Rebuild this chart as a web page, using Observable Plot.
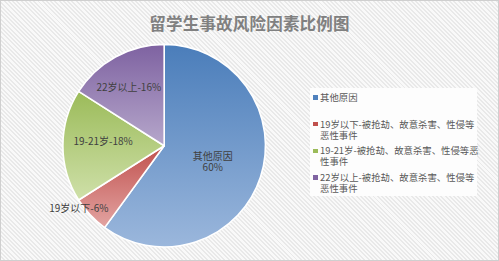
<!DOCTYPE html>
<html>
<head>
<meta charset="utf-8">
<script src="https://cdn.jsdelivr.net/npm/d3@7"></script>
<script src="https://cdn.jsdelivr.net/npm/@observablehq/plot@0.6"></script>
<style>
  html, body { margin: 0; padding: 0; background: #fff; }
  #chart {
    position: relative; width: 499px; height: 261px; box-sizing: border-box;
    border: 1px solid #cfcfcf;
    background: repeating-linear-gradient(45deg, #f9f9f9 0px, #f9f9f9 1.6px, #e9e9e9 1.6px, #e9e9e9 3px);
    font-family: "Noto Sans CJK SC", sans-serif; overflow: hidden;
  }
  #title {
    position: absolute; left: 0; top: 10px; width: 497px; text-align: center;
    font-size: 16.5px; font-weight: bold; color: #808080; letter-spacing: 0.2px;
  }
  #plot { position: absolute; left: -1px; top: -1px; }
  #legend {
    position: absolute; left: 309px; top: 87px; width: 167px; height: 108px;
    background: #fdfdfd; box-sizing: border-box; padding: 4px 0 0 3px;
    font-size: 9.4px; color: #595959; line-height: 11px;
  }
  .item { position: relative; padding-left: 7px; width: 160px; margin-bottom: 4.7px; }
  .item .sw { position: absolute; left: 0; top: 3.3px; width: 4.5px; height: 4.5px; }
</style>
</head>
<body>
<div id="chart">
  <div id="title">留学生事故风险因素比例图</div>
  <div id="plot"></div>
  <div id="legend"></div>
</div>
<script>
const categories = ["其他原因", "19岁以下-被抢劫、故意杀害、性侵等恶性事件", "19-21岁-被抢劫、故意杀害、性侵等恶性事件", "22岁以上-被抢劫、故意杀害、性侵等恶性事件"];
const shortLabels = ["其他原因", "19岁以下", "19-21岁", "22岁以上"];
const values = [60, 6, 18, 16];

// styles
const topColors = ["#4a7dba", "#c0504d", "#9bbb59", "#7e62a1"];
const bottomColors = ["#9bb7dc", "#e3a4a2", "#cfe0a9", "#b6a7cb"];
const swatch = ["#4f81bd", "#c0504d", "#9bbb59", "#8064a2"];
// label placement: [radius factor, angle shift in degrees]
const labelPlace = [[0.5, 0.4], [1.05, 7], [0.61, 4.6], [0.68, -2.6]];

const pie = d3.pie().sort(null).value(d => d.value);
const rows = categories.map((c, i) => ({category: c, short: shortLabels[i], value: values[i], i}));
const arcs = pie(rows);

const labels = arcs.map((a, i) => {
  const mid = (a.startAngle + a.endAngle) / 2 + labelPlace[i][1] * Math.PI / 180;
  const r = labelPlace[i][0];
  return {
    x: r * Math.sin(mid),
    y: r * Math.cos(mid),
    text: i === 0 ? `${a.data.short}\n${a.data.value}%` : `${a.data.short}-${a.data.value}%`
  };
});

function pieMark(index, scales) {
  const {x, y} = scales;
  const cx = x(0), cy = y(0);
  const R = x(1) - x(0);
  const ns = "http://www.w3.org/2000/svg";
  const g = document.createElementNS(ns, "g");
  const defs = document.createElementNS(ns, "defs");
  g.appendChild(defs);
  const arcGen = d3.arc().innerRadius(0).outerRadius(R);
  arcs.forEach((a, i) => {
    const lg = document.createElementNS(ns, "linearGradient");
    lg.setAttribute("id", "grad" + i);
    lg.setAttribute("x1", "0"); lg.setAttribute("y1", "0");
    lg.setAttribute("x2", "0"); lg.setAttribute("y2", "1");
    [[0, topColors[i]], [1, bottomColors[i]]].forEach(([o, c]) => {
      const s = document.createElementNS(ns, "stop");
      s.setAttribute("offset", o); s.setAttribute("stop-color", c);
      lg.appendChild(s);
    });
    defs.appendChild(lg);
    const p = document.createElementNS(ns, "path");
    p.setAttribute("d", arcGen(a));
    p.setAttribute("transform", `translate(${cx},${cy})`);
    p.setAttribute("fill", `url(#grad${i})`);
    p.setAttribute("stroke", "#ffffff");
    p.setAttribute("stroke-width", "1.6");
    p.setAttribute("stroke-linejoin", "round");
    g.appendChild(p);
  });
  return g;
}

const plot = Plot.plot({
  width: 499, height: 261,
  marginLeft: 63, marginRight: 233, marginTop: 45, marginBottom: 14,
  x: {domain: [-1, 1], axis: null},
  y: {domain: [-1, 1], axis: null},
  style: {background: "transparent", fontFamily: "'Noto Sans CJK SC', sans-serif"},
  marks: [
    pieMark,
    Plot.text(labels, {x: "x", y: "y", text: "text", fill: "#404040", fontSize: 10, lineHeight: 1.12})
  ]
});
document.getElementById("plot").appendChild(plot);

const legend = document.getElementById("legend");
categories.forEach((c, i) => {
  const d = document.createElement("div");
  d.className = "item";
  if (i === 0) d.style.marginBottom = "15.7px";
  d.innerHTML = `<span class="sw" style="background:${swatch[i]}"></span>`;
  d.appendChild(document.createTextNode(c));
  legend.appendChild(d);
});
</script>
</body>
</html>
